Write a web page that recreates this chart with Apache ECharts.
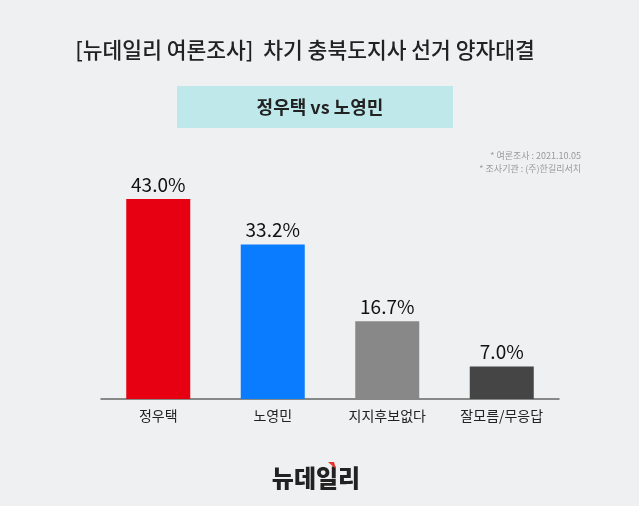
<!DOCTYPE html>
<html><head><meta charset="utf-8">
<script src="https://cdn.jsdelivr.net/npm/echarts@6/dist/echarts.min.js"></script>
<style>html,body{margin:0;padding:0;background:#eff0f2}#c{width:639px;height:506px}</style>
</head><body><div id="c"></div>
<script>
var categories = ['정우택', '노영민', '지지후보없다', '잘모름/무응답'];
var values = [43.0, 33.2, 16.7, 7.0];
var colors = ['#e60012', '#0a7cff', '#888888', '#454545'];
var title = '[뉴데일리 여론조사]  차기 충북도지사 선거 양자대결';
var subtitle = '정우택 vs 노영민';
var notes = ['* 여론조사 : 2021.10.05', '* 조사기관 : (주)한길리서치'];
var FONT = '"Noto Sans CJK KR", "Noto Sans", sans-serif';
var chart = echarts.init(document.getElementById('c'));
chart.setOption({
  backgroundColor: '#eff0f2',
  animation: false,
  grid: {left: 101, right: 80, top: 166.5, bottom: 107},
  xAxis: {type: 'category', data: categories,
    axisLine: {lineStyle: {color: '#666', width: 1.5}}, axisTick: {show: false},
    axisLabel: {color: '#222', fontSize: 14, fontFamily: FONT, margin: 10}},
  yAxis: {type: 'value', min: 0, max: 50, show: false, splitLine: {show: false}},
  series: [{type: 'bar', barWidth: 64,
    data: values.map(function(v, i){ return {value: v, itemStyle: {color: colors[i]}}; }),
    label: {show: true, position: 'top', distance: 5, color: '#111', fontSize: 19, fontFamily: FONT,
      formatter: function(p){ return p.value.toFixed(1) + '%'; }}}],
  graphic: [
    {type: 'text', x: 305, y: 50, style: {text: title, fill: '#222', fontSize: 21.5, fontWeight: 500, fontFamily: FONT, align: 'center', verticalAlign: 'middle'}},
    {type: 'rect', shape: {x: 177, y: 86, width: 276, height: 42}, style: {fill: '#bfe8ea'}},
    {type: 'text', x: 320, y: 107, style: {text: subtitle, fill: '#222', fontSize: 18, fontWeight: 'bold', fontFamily: FONT, align: 'center', verticalAlign: 'middle'}},
    {type: 'text', x: 581, y: 156, style: {text: notes[0], fill: '#999', fontSize: 9, fontFamily: FONT, align: 'right', verticalAlign: 'middle'}},
    {type: 'text', x: 581, y: 168.5, style: {text: notes[1], fill: '#999', fontSize: 9, fontFamily: FONT, align: 'right', verticalAlign: 'middle'}},
    {type: 'text', x: 316, y: 478, style: {text: '뉴데일리', fill: '#222', fontSize: 24, fontWeight: 900, fontFamily: FONT, align: 'center', verticalAlign: 'middle'}},
    {type: 'polygon', shape: {points: [[328, 462], [334, 462], [336, 469]]}, style: {fill: '#e8322b'}}
  ]
});
</script></body></html>
